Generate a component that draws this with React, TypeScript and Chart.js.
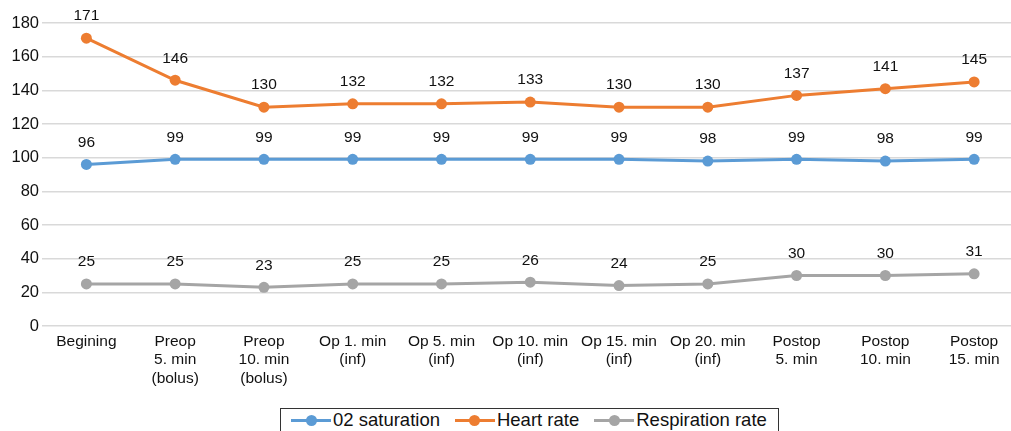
import React, { useEffect, useRef } from "react";
import { Chart, registerables } from "chart.js";

Chart.register(...registerables);

const categories: string[][] = [
  ["Begining"],
  ["Preop", "5. min", "(bolus)"],
  ["Preop", "10. min", "(bolus)"],
  ["Op 1. min", "(inf)"],
  ["Op 5. min", "(inf)"],
  ["Op 10. min", "(inf)"],
  ["Op 15. min", "(inf)"],
  ["Op 20. min", "(inf)"],
  ["Postop", "5. min"],
  ["Postop", "10. min"],
  ["Postop", "15. min"],
];
const o2Saturation = [96, 99, 99, 99, 99, 99, 99, 98, 99, 98, 99];
const heartRate = [171, 146, 130, 132, 132, 133, 130, 130, 137, 141, 145];
const respirationRate = [25, 25, 23, 25, 25, 26, 24, 25, 30, 30, 31];
const seriesNames = ["02 saturation", "Heart rate", "Respiration rate"];
const seriesColors = ["#5B9BD5", "#ED7D31", "#A5A5A5"];

const FONT = "'Liberation Sans', Arial, Helvetica, sans-serif";

const labelPlugin = {
  id: "pointLabels",
  afterDatasetsDraw(chart: any) {
    const ctx = chart.ctx;
    ctx.save();
    ctx.font = `15.5px ${FONT}`;
    ctx.fillStyle = "#111";
    ctx.textAlign = "center";
    ctx.textBaseline = "middle";
    chart.data.datasets.forEach((ds: any, i: number) => {
      const meta = chart.getDatasetMeta(i);
      meta.data.forEach((pt: any, j: number) => {
        ctx.fillText(String(ds.data[j]), pt.x, pt.y - 22);
      });
    });
    ctx.restore();
  },
};

export default function App() {
  const ref = useRef<HTMLCanvasElement>(null);
  useEffect(() => {
    if (!ref.current) return;
    const datasets = [o2Saturation, heartRate, respirationRate].map((d, i) => ({
      label: seriesNames[i],
      data: d,
      borderColor: seriesColors[i],
      backgroundColor: seriesColors[i],
      borderWidth: 3,
      pointRadius: 5.5,
      pointHoverRadius: 5.5,
      pointBorderWidth: 0,
      tension: 0,
    }));
    const chart = new Chart(ref.current, {
      type: "line",
      data: { labels: categories as any, datasets },
      plugins: [labelPlugin],
      options: {
        animation: false,
        responsive: false,
        maintainAspectRatio: false,
        layout: { padding: { top: 23, left: 0, right: 0, bottom: 0 } },
        plugins: { legend: { display: false }, tooltip: { enabled: false } },
        scales: {
          x: {
            offset: true,
            grid: { display: false, drawTicks: false },
            border: { display: false },
            ticks: {
              color: "#111",
              font: { family: FONT, size: 15.5 },
              maxRotation: 0,
              autoSkip: false,
              padding: 6,
            },
            afterFit: (s: any) => {
              s.height = 70;
            },
          },
          y: {
            min: 0,
            max: 180,
            grid: { color: "#d9d9d9", lineWidth: 1.5, drawTicks: false },
            border: { display: false },
            ticks: {
              stepSize: 20,
              color: "#111",
              font: { family: FONT, size: 16.5 },
              padding: 3,
            },
            afterFit: (s: any) => {
              s.width = 42;
            },
          },
        },
      },
    });
    return () => chart.destroy();
  }, []);

  const item = (i: number) => (
    <div key={i} style={{ display: "flex", alignItems: "center", marginRight: i < 2 ? 15 : 0 }}>
      <div style={{ position: "relative", width: 40, height: 11 }}>
        <div
          style={{
            position: "absolute",
            left: 0,
            right: 0,
            top: 4,
            height: 3,
            background: seriesColors[i],
          }}
        />
        <div
          style={{
            position: "absolute",
            left: 14.5,
            top: 0,
            width: 11,
            height: 11,
            borderRadius: 6,
            background: seriesColors[i],
          }}
        />
      </div>
      <span style={{ fontFamily: FONT, fontSize: 18.5, color: "#111", marginLeft: 2 }}>
        {seriesNames[i]}
      </span>
    </div>
  );

  return (
    <div
      style={{
        position: "fixed",
        left: 0,
        top: 0,
        width: 1011,
        height: 431,
        overflow: "hidden",
        background: "#fff",
      }}
    >
      <canvas ref={ref} width={1024} height={396} style={{ width: 1024, height: 396, display: "block" }} />
      <div
        style={{
          position: "absolute",
          left: 280,
          top: 408,
          width: 499,
          height: 30,
          border: "1.5px solid #333",
          boxSizing: "border-box",
          display: "flex",
          alignItems: "flex-start",
          paddingTop: 0,
          paddingLeft: 10,
        }}
      >
        {[0, 1, 2].map(item)}
      </div>
    </div>
  );
}
